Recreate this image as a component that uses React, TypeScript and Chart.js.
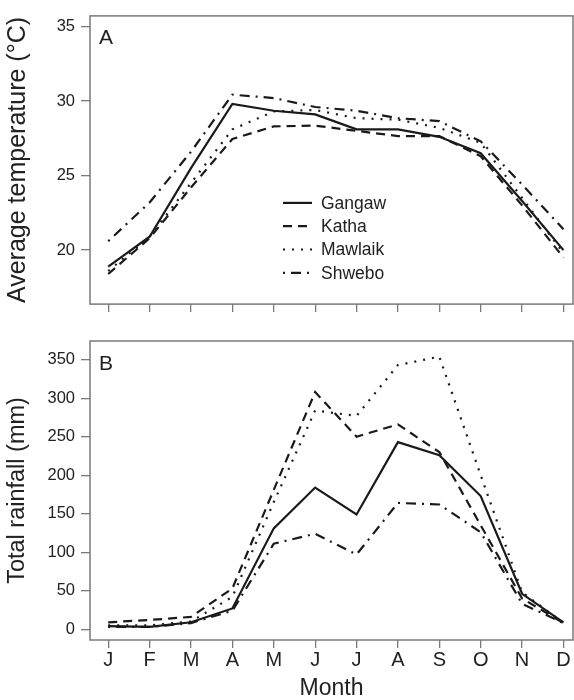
import React, { useEffect, useRef } from "react";
import { Chart, registerables } from "chart.js";

Chart.register(...registerables);

// ---- data ----
const months = ["J", "F", "M", "A", "M", "J", "J", "A", "S", "O", "N", "D"];
const stations = ["Gangaw", "Katha", "Mawlaik", "Shwebo"];

const tempGangaw = [18.9, 20.9, 25.5, 29.8, 29.35, 29.1, 28.1, 28.1, 27.6, 26.5, 23.3, 20.0];
const tempKatha = [18.4, 20.8, 24.2, 27.45, 28.3, 28.35, 28.0, 27.65, 27.65, 26.3, 23.0, 19.5];
const tempMawlaik = [18.6, 20.9, 24.5, 28.1, 29.3, 29.4, 28.85, 28.75, 28.2, 27.2, 23.5, 19.8];
const tempShwebo = [20.6, 23.2, 26.6, 30.43, 30.2, 29.6, 29.35, 28.85, 28.65, 27.3, 24.4, 21.4];

const rainGangaw = [4, 3, 9, 27, 131, 184, 149, 243, 226, 173, 46, 9];
const rainKatha = [9, 12, 16, 53, 181, 308, 250, 266, 230, 135, 40, 8];
const rainMawlaik = [5, 5, 10, 42, 165, 284, 277, 343, 354, 200, 48, 8];
const rainShwebo = [3, 3, 8, 24, 111, 124, 97, 164, 162, 126, 33, 8];

const tempTicks = [20, 25, 30, 35];
const rainTicks = [0, 50, 100, 150, 200, 250, 300, 350];

// ---- styles ----
const FONT = "'Liberation Sans', Arial, Helvetica, sans-serif";
const INK = "#1a1a1a";
const TEXT = "#222222";
const FRAME = "#7a7a7a";

const lineStyles = [
  { borderDash: [] as number[], borderWidth: 2.2 },
  { borderDash: [9, 6], borderWidth: 2.2 },
  { borderDash: [2, 7], borderWidth: 2.2 },
  { borderDash: [2, 6, 10, 6], borderWidth: 2.2 },
];

const framePlugin = {
  id: "frame",
  afterDraw(chart: any, _args: any, opts: any) {
    const { ctx, chartArea: a } = chart;
    ctx.save();
    ctx.strokeStyle = FRAME;
    ctx.lineWidth = 1.5;
    ctx.setLineDash([]);
    ctx.strokeRect(a.left, a.top, a.right - a.left, a.bottom - a.top);
    ctx.fillStyle = TEXT;
    ctx.font = `21px ${FONT}`;
    ctx.textBaseline = "alphabetic";
    ctx.textAlign = "left";
    ctx.fillText(opts.letter, a.left + 9, a.top + 28.5);
    if (opts.legend) {
      chart.data.datasets.forEach((ds: any, i: number) => {
        const y = a.top + 187 + i * 23.3;
        ctx.strokeStyle = INK;
        ctx.lineWidth = ds.borderWidth;
        ctx.setLineDash(ds.borderDash);
        ctx.beginPath();
        ctx.moveTo(a.left + 193, y);
        ctx.lineTo(a.left + 222, y);
        ctx.stroke();
        ctx.setLineDash([]);
        ctx.fillStyle = TEXT;
        ctx.font = `17.5px ${FONT}`;
        ctx.textBaseline = "middle";
        ctx.fillText(ds.label, a.left + 231, y + 1);
      });
    }
    ctx.restore();
  },
};

function makeDatasets(series: number[][]) {
  return series.map((vals, i) => ({
    label: stations[i],
    data: months.map((_, k) => ({ x: k, y: vals[k] })),
    borderColor: INK,
    borderWidth: lineStyles[i].borderWidth,
    borderDash: lineStyles[i].borderDash,
    pointRadius: 0,
    tension: 0,
    fill: false,
  }));
}

function makeConfig(panel: "A" | "B"): any {
  const isA = panel === "A";
  const series = isA
    ? [tempGangaw, tempKatha, tempMawlaik, tempShwebo]
    : [rainGangaw, rainKatha, rainMawlaik, rainShwebo];
  const yTicks = isA ? tempTicks : rainTicks;
  return {
    type: "line",
    data: { datasets: makeDatasets(series) },
    plugins: [framePlugin],
    options: {
      animation: false,
      responsive: false,
      devicePixelRatio: 1,
      layout: { padding: { top: isA ? 9 : 21, right: 1, left: 0, bottom: 0 } },
      plugins: {
        legend: { display: false },
        tooltip: { enabled: false },
        frame: { letter: panel, legend: isA },
      },
      scales: {
        x: {
          type: "linear",
          min: -0.44,
          max: 11.23,
          afterBuildTicks: (s: any) => {
            s.ticks = months.map((_, i) => ({ value: i }));
          },
          afterFit: (s: any) => {
            s.height = isA ? 12 : 60;
          },
          grid: { drawOnChartArea: false, drawTicks: true, tickLength: 8, color: FRAME, lineWidth: 1.3 },
          border: { display: false },
          ticks: {
            display: !isA,
            autoSkip: false,
            maxRotation: 0,
            padding: 0,
            color: TEXT,
            font: { family: FONT, size: 20 },
            callback: (v: number) => months[v],
          },
          title: {
            display: !isA,
            text: "Month",
            color: TEXT,
            font: { family: FONT, size: 23, lineHeight: 1 },
            padding: { top: 0, bottom: 0 },
          },
        },
        y: {
          type: "linear",
          min: isA ? 16.38 : -14,
          max: isA ? 35.71 : 374.3,
          afterBuildTicks: (s: any) => {
            s.ticks = yTicks.map((v) => ({ value: v }));
          },
          afterFit: (s: any) => {
            s.width = 90;
          },
          grid: { drawOnChartArea: false, drawTicks: true, tickLength: 9, color: FRAME, lineWidth: 1.3 },
          border: { display: false },
          ticks: { color: TEXT, padding: 6, font: { family: FONT, size: 16.5 } },
          title: {
            display: true,
            text: isA ? "Average temperature (°C)" : "Total rainfall (mm)",
            color: TEXT,
            font: { family: FONT, size: isA ? 25 : 23.5, lineHeight: 1 },
            padding: { top: isA ? 5.5 : 6, bottom: 0 },
          },
        },
      },
    },
  };
}

function Panel({ panel, top, height }: { panel: "A" | "B"; top: number; height: number }) {
  const ref = useRef<HTMLCanvasElement | null>(null);
  useEffect(() => {
    if (!ref.current) return;
    const chart = new Chart(ref.current, makeConfig(panel));
    return () => chart.destroy();
  }, [panel]);
  return (
    <canvas
      ref={ref}
      width={574}
      height={height}
      style={{ position: "absolute", left: 0, top, width: 574, height }}
    />
  );
}

export default function App() {
  return (
    <div style={{ position: "fixed", left: 0, top: 0, width: 574, height: 700, background: "#fff" }}>
      <Panel panel="A" top={0} height={320} />
      <Panel panel="B" top={320} height={380} />
    </div>
  );
}
